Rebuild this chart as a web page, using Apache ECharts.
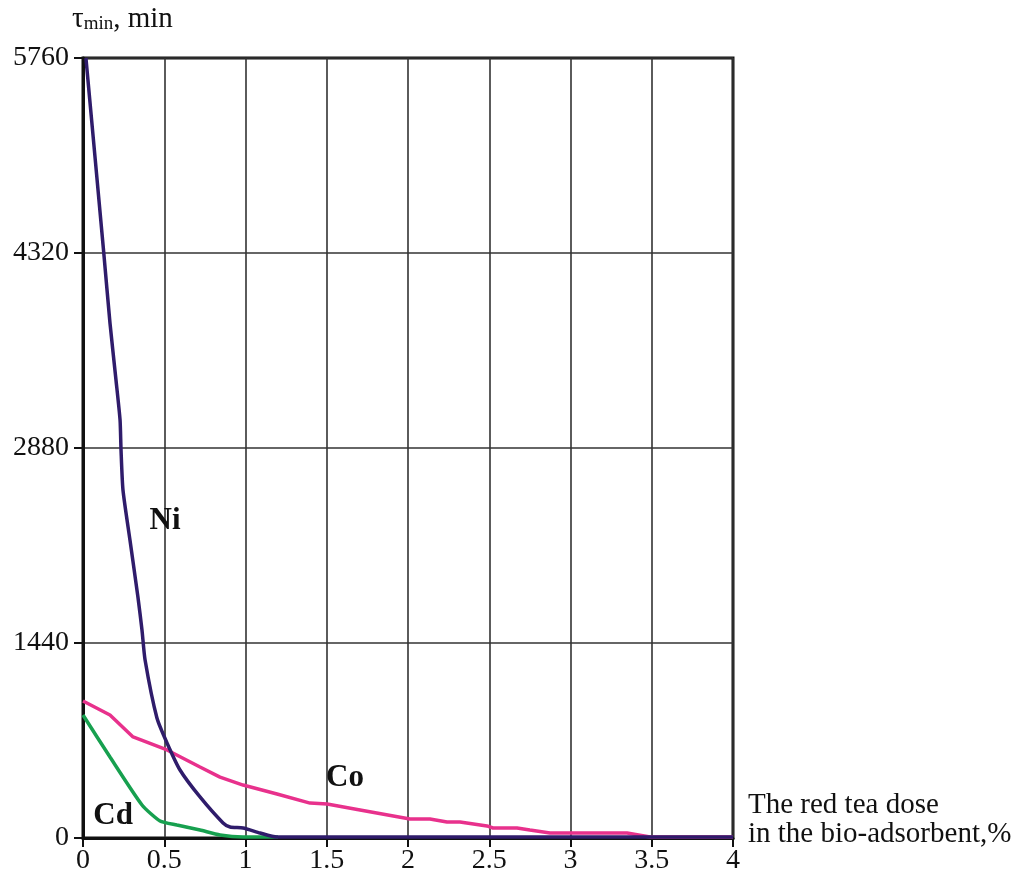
<!DOCTYPE html>
<html>
<head>
<meta charset="utf-8">
<script src="https://cdn.jsdelivr.net/npm/echarts@6/dist/echarts.min.js"></script>
<style>
  html, body { margin: 0; padding: 0; background: #fff; }
  #chart { width: 1017px; height: 880px; }
</style>
</head>
<body>
<div id="chart"></div>
<script>
// Breakthrough time vs. red tea dose, per metal
const xTicks = [0, 0.5, 1, 1.5, 2, 2.5, 3, 3.5, 4];
const yTicks = [0, 1440, 2880, 4320, 5760];

const niData = [
  [0.018, 5760], [0.129, 4305], [0.166, 3803], [0.203, 3382], [0.228, 3087],
  [0.234, 2865], [0.246, 2570], [0.289, 2200], [0.338, 1780], [0.363, 1536],
  [0.382, 1314], [0.455, 886], [0.517, 702], [0.597, 502], [0.72, 303],
  [0.862, 111], [0.905, 81], [0.985, 74], [1.089, 37], [1.194, 7], [4, 7]
];
const coData = [
  [0, 1012], [0.166, 908], [0.308, 746], [0.517, 650], [0.72, 524],
  [0.843, 450], [0.985, 391], [1.194, 325], [1.397, 258], [1.502, 251],
  [1.705, 207], [2.012, 140], [2.135, 140], [2.24, 118], [2.32, 118],
  [2.486, 89], [2.523, 74], [2.671, 74], [2.75, 59], [2.874, 37],
  [3.015, 37], [3.348, 37], [3.49, 7], [4, 7]
];
const cdData = [
  [0, 908], [0.166, 598], [0.363, 244], [0.474, 126], [0.578, 96],
  [0.72, 59], [0.843, 22], [0.985, 7], [1.2, 7]
];

// Curve name labels and where they sit in data space
const curveLabels = [
  { name: 'Ni', at: [0.505, 2340] },
  { name: 'Co', at: [1.612, 440] },
  { name: 'Cd', at: [0.185, 165] }
];

const serif = '"Liberation Serif", "DejaVu Serif", serif';

function nameMark(name) {
  const item = curveLabels.find(c => c.name === name);
  return {
    silent: true,
    symbol: 'circle',
    symbolSize: 0,
    data: [{
      coord: item.at,
      label: {
        show: true,
        formatter: item.name,
        position: 'inside',
        fontFamily: serif,
        fontWeight: 'bold',
        fontSize: 31,
        color: '#111'
      }
    }]
  };
}

const chart = echarts.init(document.getElementById('chart'), null, { renderer: 'canvas' });

chart.setOption({
  backgroundColor: '#fff',
  animation: false,
  grid: {
    left: 83, right: 284, top: 58, bottom: 42,
    show: true, borderColor: '#111', borderWidth: 3, backgroundColor: 'transparent'
  },
  xAxis: {
    type: 'value',
    min: 0, max: 4, interval: 0.5,
    axisLine: { show: true, onZero: false, lineStyle: { color: '#111', width: 3 } },
    axisTick: { show: true, length: 9, lineStyle: { color: '#111', width: 2 } },
    splitLine: { show: true, lineStyle: { color: '#333', width: 1.6 } },
    axisLabel: {
      fontFamily: serif, fontSize: 28, color: '#111', margin: 9,
      formatter: v => xTicks.includes(v) ? String(v) : ''
    }
  },
  yAxis: {
    type: 'value',
    min: 0, max: 5760, interval: 1440,
    axisLine: { show: true, lineStyle: { color: '#111', width: 3 } },
    axisTick: { show: true, length: 9, lineStyle: { color: '#111', width: 2 } },
    splitLine: { show: true, lineStyle: { color: '#333', width: 1.6 } },
    axisLabel: {
      fontFamily: serif, fontSize: 28, color: '#111', margin: 14,
      formatter: v => yTicks.includes(v) ? String(v) : ''
    }
  },
  series: [
    {
      name: 'Cd', type: 'line', data: cdData, showSymbol: false, smooth: 0.2,
      lineStyle: { color: '#17a04f', width: 3.5 }, z: 2,
      markPoint: nameMark('Cd')
    },
    {
      name: 'Co', type: 'line', data: coData, showSymbol: false, smooth: false,
      lineStyle: { color: '#e8318c', width: 3.5 }, z: 3,
      markPoint: nameMark('Co')
    },
    {
      name: 'Ni', type: 'line', data: niData, showSymbol: false, smooth: 0.2,
      lineStyle: { color: '#2f1c6b', width: 3.5 }, z: 4,
      markPoint: nameMark('Ni')
    }
  ],
  graphic: [
    {
      type: 'text', left: 72, top: 5,
      style: {
        text: '{t|τ}{s|min}{t|, min}',
        rich: {
          t: { fontFamily: serif, fontSize: 29, fill: '#111' },
          s: { fontFamily: serif, fontSize: 19, fill: '#111', padding: [10, 0, 0, 0] }
        }
      }
    },
    {
      type: 'text', left: 748, top: 791,
      style: {
        text: 'The red tea dose\nin the bio-adsorbent,%',
        fontFamily: serif, fontSize: 29, fill: '#111', lineHeight: 29
      }
    }
  ]
});
</script>
</body>
</html>
